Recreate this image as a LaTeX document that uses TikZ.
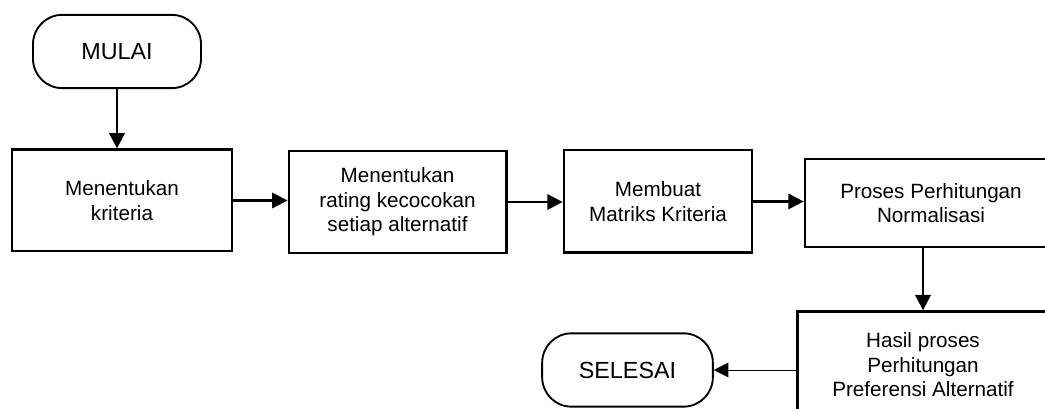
\documentclass[tikz,border=0pt]{standalone}
\usepackage{fontspec}
\setmainfont{Liberation Sans}
\usetikzlibrary{arrows.meta}

\tikzset{
  terminal/.style={draw, line width=1.4pt, rounded corners=22pt, align=center, font=\fontsize{17.5}{21}\selectfont},
  process/.style={draw, line width=2pt, align=center},
  flow/.style={line width=1.8pt, -{Triangle[length=11.5pt,width=11.5pt]}},
  thinflow/.style={line width=0.7pt, -{Triangle[length=11pt,width=11pt]}}
}

\begin{document}
\begin{tikzpicture}[x=0.75pt,y=-0.75pt,font=\fontsize{15.5}{18.4}\selectfont]
\useasboundingbox (0,0) rectangle (1045,409);
\clip (0,0) rectangle (1045,409);

\node[terminal, minimum width=126pt, minimum height=55pt] (mulai) at (117,51.5) {MULAI};
\node[process, minimum width=165pt, minimum height=76pt] (kriteria) at (122,200.5) {Menentukan\\kriteria};
\node[process, minimum width=163pt, minimum height=76.5pt] (rating) at (397.5,202) {Menentukan\\rating kecocokan\\setiap alternatif};
\node[process, minimum width=141pt, minimum height=77pt] (matriks) at (658,201.5) {Membuat\\Matriks Kriteria};
\node[process, minimum width=189pt, minimum height=66pt] (normalisasi) at (931,203) {Proses Perhitungan\\Normalisasi};
\node[process, minimum width=188pt, minimum height=80pt] (hasil) at (923,365) {Hasil proses\\Perhitungan\\Preferensi Alternatif};
\node[terminal, minimum width=128pt, minimum height=55pt] (selesai) at (627.5,370) {SELESAI};

\foreach \from/\to in {kriteria/rating,rating/matriks,matriks/normalisasi}
\draw[flow] (\from.east) -- (\from.east -| \to.west);
\draw[flow] (mulai.south) -- (mulai.south |- kriteria.north);
\draw[flow] (normalisasi.south -| hasil.north) -- (hasil.north);
\draw[thinflow] (hasil.west |- selesai.east) -- (selesai.east);
\end{tikzpicture}
\end{document}
